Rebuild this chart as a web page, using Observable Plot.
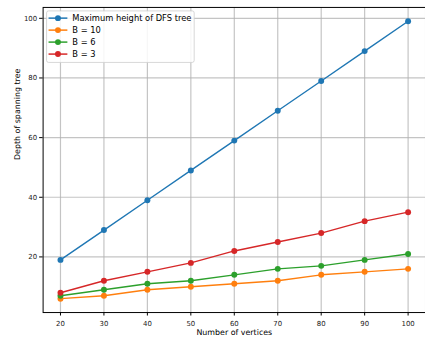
<!DOCTYPE html>
<html><head><meta charset="utf-8">
<script src="https://cdn.jsdelivr.net/npm/d3@7"></script>
<script src="https://cdn.jsdelivr.net/npm/@observablehq/plot@0.6"></script>
<style>
html,body{margin:0;padding:0;background:#fff;overflow:hidden}
#chart{position:relative;width:425px;height:342px;overflow:hidden}
</style>
</head><body><div id="chart"></div>
<script>
const vertices = [20, 30, 40, 50, 60, 70, 80, 90, 100];
const seriesNames = ["Maximum height of DFS tree", "B = 10", "B = 6", "B = 3"];
const dfsHeight = [19, 29, 39, 49, 59, 69, 79, 89, 99];
const b10 = [6, 7, 9, 10, 11, 12, 14, 15, 16];
const b6 = [7, 9, 11, 12, 14, 16, 17, 19, 21];
const b3 = [8, 12, 15, 18, 22, 25, 28, 32, 35];
const colors = ["#1f77b4", "#ff7f0e", "#2ca02c", "#d62728"];
const xTicks = [20, 30, 40, 50, 60, 70, 80, 90, 100];
const yTicks = [20, 40, 60, 80, 100];
const xLabel = "Number of vertices";
const yLabel = "Depth of spanning tree";

const allSeries = [dfsHeight, b10, b6, b3];
const data = [];
allSeries.forEach((vals, i) => vals.forEach((v, j) => data.push({x: vertices[j], y: v, series: seriesNames[i]})));

const font = "DejaVu Sans, sans-serif";
const plot = Plot.plot({
  width: 429, height: 342,
  marginLeft: 43, marginRight: 0, marginTop: 7, marginBottom: 27,
  style: {fontFamily: font, fontSize: "7px", background: "#fff", color: "#222"},
  x: {domain: [16, 104]},
  y: {domain: [1.35, 103.65]},
  color: {domain: seriesNames, range: colors},
  marks: [
    Plot.gridX(xTicks, {stroke: "#b0b0b0", strokeOpacity: 0.75, strokeWidth: 1.2}),
    Plot.gridY(yTicks, {stroke: "#b0b0b0", strokeOpacity: 0.75, strokeWidth: 1.2}),
    Plot.axisX(xTicks, {tickSize: 3.5, tickPadding: 5, label: null, fontSize: 7, stroke: "#000"}),
    Plot.axisY(yTicks, {tickSize: 3.5, tickPadding: 2.5, label: null, fontSize: 7, stroke: "#000"}),
    Plot.line(data, {x: "x", y: "y", z: "series", stroke: "series", strokeWidth: 1.4}),
    Plot.dot(data, {x: "x", y: "y", fill: "series", r: 3}),
    Plot.frame({stroke: "#000", strokeWidth: 1}),
    Plot.text([xLabel], {frameAnchor: "bottom", lineAnchor: "middle", dy: 20, fontSize: 8, fill: "#000"}),
    Plot.text([yLabel], {frameAnchor: "left", lineAnchor: "middle", dx: -26, rotate: -90, fontSize: 8, fill: "#000"})
  ]
});
document.getElementById("chart").appendChild(plot);

// Legend
const svg = d3.select(plot);
const lg = svg.append("g").attr("font-family", font).attr("font-size", 8.4).attr("text-anchor", "start");
lg.append("rect").attr("x", 47).attr("y", 11).attr("width", 149).attr("height", 52)
  .attr("rx", 2).attr("fill", "#fff").attr("fill-opacity", 0.85).attr("stroke", "#ccc").attr("stroke-width", 0.8);
seriesNames.forEach((name, i) => {
  const y = 18.3 + i * 12.1;
  lg.append("line").attr("x1", 49).attr("x2", 68).attr("y1", y).attr("y2", y)
    .attr("stroke", colors[i]).attr("stroke-width", 1.5);
  lg.append("circle").attr("cx", 58.5).attr("cy", y).attr("r", 3).attr("fill", colors[i]);
  lg.append("text").attr("x", 73).attr("y", y).attr("dy", "0.35em").attr("text-anchor", "start").attr("fill", "#000").text(name);
});
</script>
</body></html>
